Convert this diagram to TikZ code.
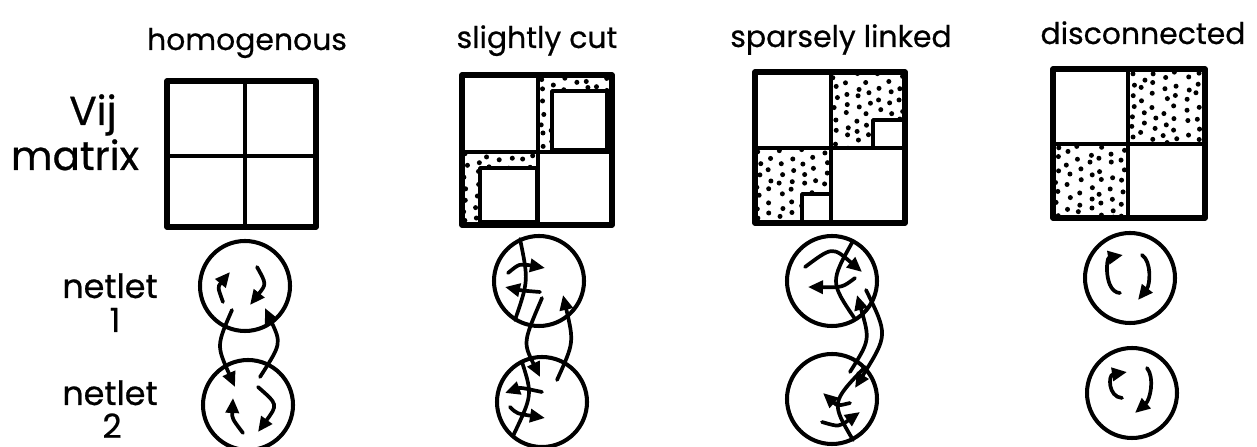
\documentclass[tikz,border=0pt]{standalone}
\usepackage{fontspec}
\setmainfont{Poppins}[FakeBold=0.6]
\usetikzlibrary{arrows.meta}
\newcommand\stipple[4]{%
 \begin{scope}
 \clip (#1,#2) rectangle (#3,#4);
 \foreach \i in {0,...,7}{\foreach \j in {0,...,7}{%
   \pgfmathsetmacro\px{#1+4+\i*11+2.5*rand}%
   \pgfmathsetmacro\py{#2+4+\j*11+5.5*mod(\i,2)+2.5*rand}%
   \fill (\px,\py) circle[radius=0.5mm];}}
 \end{scope}}
\begin{document}
\begin{tikzpicture}[x=0.2mm,y=-0.2mm,line join=round,line cap=round,
  outer/.style={line width=3.2pt},
  inner/.style={line width=2.2pt},
  net/.style={circle,draw,line width=2.3pt,minimum size=18mm,inner sep=0pt},
  arr/.style={line width=2.1pt,-{Triangle[length=3mm,width=2.6mm]}},
  cut/.style={line width=2.1pt},
  ttl/.style={font=\fontsize{17}{20}\selectfont,anchor=base},
  big/.style={font=\fontsize{23}{26}\selectfont,anchor=base},
  nl/.style={font=\fontsize{19}{22}\selectfont,anchor=base}]
\useasboundingbox (0,0) rectangle (1257,447);
\pgfmathsetseed{7}
% ---------- titles and labels
\node[ttl] (t1) at (247,50) {homogenous};
\node[ttl] (t2) at (537,48) {slightly cut};
\node[ttl] (t3) at (841,47) {sparsely linked};
\node[ttl] (t4) at (1143,44) {disconnected};
\node[big] (vij) at (93,125) {Vij};
\node[big] (mat) at (75,170) {matrix};
\node[nl] (nA) at (110,298) {netlet};
\node[nl] (nAn) at (115,332) {1};
\node[nl] (nB) at (110,405) {netlet};
\node[nl] (nBn) at (112,438) {2};
% ---------- matrices
% homogenous
\draw[inner] (245,81) -- (245,227) (167,156) -- (316,156);
\draw[outer] (167,81) rectangle (316,227);
% slightly cut
\stipple{538}{75}{612}{152}
\stipple{462}{152}{538}{225}
\fill[white] (552,91) rectangle (612,152);
\fill[white] (480,168) rectangle (538,225);
\draw[inner] (552,91) rectangle (607,150);
\draw[inner] (480,168) rectangle (537,222);
\draw[inner] (538,75) -- (538,225) (462,152) -- (612,152);
\draw[outer] (462,75) rectangle (612,225);
% sparsely linked
\stipple{831}{72}{905}{148}
\stipple{755}{148}{831}{223}
\filldraw[inner,fill=white] (873,120) rectangle (905,148);
\filldraw[inner,fill=white] (802,194) rectangle (831,223);
\draw[inner] (831,72) -- (831,223) (755,148) -- (905,148);
\draw[outer] (755,72) rectangle (905,223);
% disconnected
\stipple{1128}{69}{1205}{144}
\stipple{1053}{144}{1128}{218}
\draw[inner] (1128,69) -- (1128,218) (1053,144) -- (1205,144);
\draw[outer] (1053,69) rectangle (1205,218);
% ---------- netlets
\node[net] (h1) at (245,286) {};
\node[net] (h2) at (248,405) {};
\node[net] (s1) at (539,281) {};
\node[net] (s2) at (542,402) {};
\node[net] (p1) at (832,281) {};
\node[net] (p2) at (832,399) {};
\node[net] (d1) at (1130,278) {};
\node[net] (d2) at (1132,393) {};
% homogenous
\draw[arr] (223,302) .. controls (217.5,287) .. (230,272);
\draw[arr] (257,267) .. controls (266.5,284) .. (250,305);
\draw[arr] (232,310) .. controls (216.5,345.5) .. (235,387);
\draw[arr] (260,377) .. controls (281.5,343.5) .. (265,308);
\draw[arr] (243,433) .. controls (232,418.5) .. (233,398);
\draw[arr] (258,387) .. controls (278,404.5) .. (258,432);
% slightly cut
\draw[cut] (520,239) .. controls (528.5,280.5) .. (515,320);
\draw[arr] (508,273) .. controls (519.5,263.5) .. (545,268);
\draw[arr] (540,292) .. controls (521.5,290.5) .. (505,287);
\draw[arr] (542,298) .. controls (523,342.5) .. (540,377);
\draw[arr] (557,380) .. controls (574,342.5) .. (563,295);
\draw[cut] (522,362) .. controls (532.5,395) .. (513,436);
\draw[arr] (542,392) .. controls (520.5,387.5) .. (505,393);
\draw[arr] (510,407) .. controls (516.5,413.5) .. (545,418);
% sparsely linked
\draw[cut] (853,241) .. controls (830,282) .. (855,319);
\draw[arr] (805,267) .. controls (832.5,246.5) .. (862,272);
\draw[arr] (855,278) .. controls (842.5,287.5) .. (808,287);
\draw[arr] (866,290) .. controls (888,335) .. (855,388);
\draw[arr] (850,372) .. controls (870,340) .. (857,295);
\draw[cut] (865,367) .. controls (831,402.5) .. (853,440);
\draw[arr] (850,403) .. controls (837.5,406) .. (823,393);
\draw[arr] (822,422) .. controls (839,427) .. (860,412);
% disconnected
\draw[arr] (1120,293) .. controls (1104,292) and (1106,258) .. (1123,255);
\draw[arr] (1142,255) .. controls (1152,262) and (1150,285) .. (1138,300);
\draw[arr] (1122,398) .. controls (1108,397) and (1108,375) .. (1127,372);
\draw[arr] (1147,368) .. controls (1155,378) and (1150,400) .. (1135,413);
\end{tikzpicture}
\end{document}
